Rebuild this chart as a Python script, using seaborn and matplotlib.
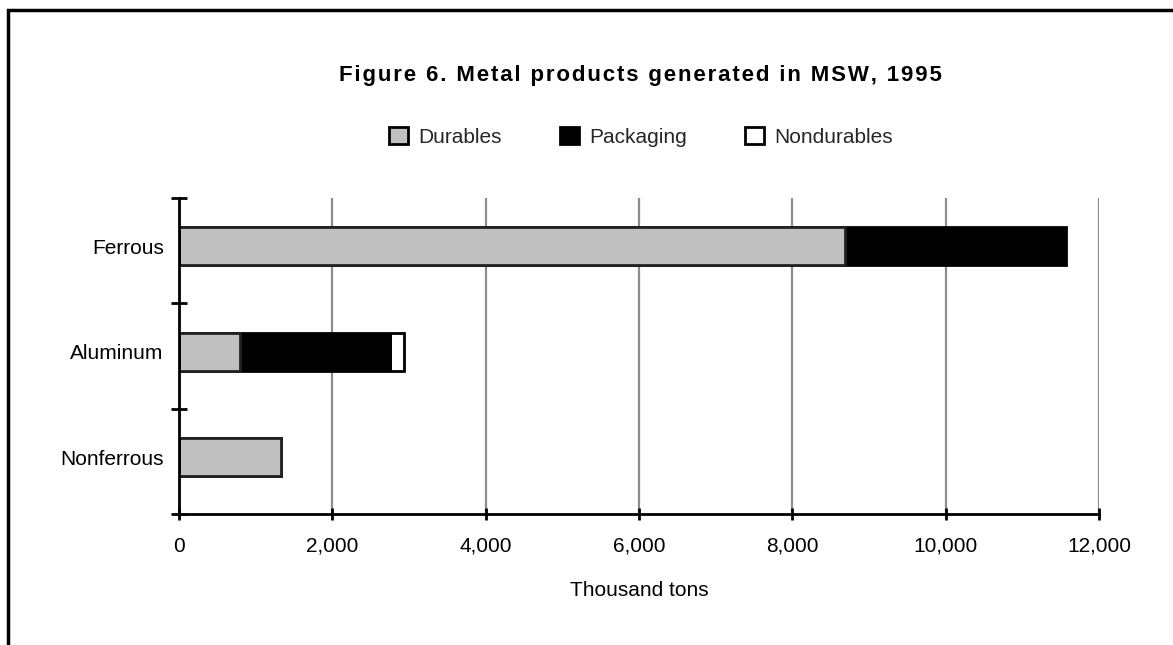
import matplotlib
matplotlib.use("Agg")
import matplotlib.pyplot as plt
from matplotlib.patches import Patch, Rectangle
from matplotlib.ticker import FuncFormatter, FixedLocator
import seaborn as sns
import pandas as pd

categories = ["Ferrous", "Aluminum", "Nonferrous"]
durables = [8690, 800, 1330]
packaging = [2880, 1980, 0]
nondurables = [0, 160, 0]
series_names = ["Durables", "Packaging", "Nondurables"]
xticks = [0, 2000, 4000, 6000, 8000, 10000, 12000]
title = "Figure 6. Metal products generated in MSW, 1995"
xlabel = "Thousand tons"

sns.set_theme(style="white")
plt.rcParams["font.family"] = ["Liberation Sans", "DejaVu Sans"]

df = pd.DataFrame({"category": categories,
                   "d": durables, "p": packaging, "n": nondurables})
df["cum_dp"] = df["d"] + df["p"]
df["cum_all"] = df["cum_dp"] + df["n"]

fig = plt.figure(figsize=(11.73, 6.45), dpi=100)
ax = fig.add_axes([179 / 1173, 1 - 514 / 645, (1099 - 179) / 1173, (514 - 198) / 645])

w = 0.36
sns.barplot(data=df, y="category", x="cum_all", orient="h", ax=ax, color="white",
            edgecolor="black", linewidth=2, width=w, saturation=1)
sns.barplot(data=df, y="category", x="cum_dp", orient="h", ax=ax, color="black",
            edgecolor="black", linewidth=0, width=w, saturation=1)
sns.barplot(data=df, y="category", x="d", orient="h", ax=ax, color="#c0c0c0",
            edgecolor="#222222", linewidth=2, width=w, saturation=1)

shift = 0.04
ax.set_xlim(0, 12000)
ax.set_ylim(2.5 + shift, -0.5 + shift)
ax.set_xticks(xticks)
ax.xaxis.set_major_formatter(FuncFormatter(lambda v, p: f"{int(v):,}"))
ax.set_yticks([-0.5 + shift, 0.5 + shift, 1.5 + shift, 2.5 + shift])
ax.set_yticklabels([])
ax.set_yticks([0, 1, 2], minor=True)
ax.set_yticklabels(categories, minor=True)
ax.tick_params(axis="y", which="minor", length=0, pad=11, labelsize=15, colors="black")
ax.tick_params(axis="y", which="major", direction="inout", length=12, width=2,
               color="black", left=True)
ax.tick_params(axis="x", which="major", direction="inout", length=9, width=2,
               color="black", bottom=True, pad=12, labelsize=15, labelcolor="black")
ax.set_ylabel("")
ax.set_xlabel(xlabel, fontsize=15, labelpad=18, color="black")

ax.grid(False)
for x in xticks[1:]:
    ax.axvline(x, color="#8c8c8c", lw=1.6, zorder=0)
for s in ["top", "right"]:
    ax.spines[s].set_visible(False)
for s in ["left", "bottom"]:
    ax.spines[s].set_color("black")
    ax.spines[s].set_linewidth(2)
ax.set_axisbelow(True)

spaced_title = "\u200a".join(title)
fig.text(640 / 1173, 1 - 75 / 645, spaced_title, ha="center", va="center",
         fontsize=16, fontweight="bold", color="black",
         family=["Liberation Sans", "DejaVu Sans"])

handles = [Patch(facecolor="#c0c0c0", edgecolor="black", linewidth=2),
           Patch(facecolor="black", edgecolor="black", linewidth=2),
           Patch(facecolor="white", edgecolor="black", linewidth=2)]
fig.legend(handles, series_names, loc="center", bbox_to_anchor=(641 / 1173, 1 - 137 / 645),
           ncol=3, frameon=False, fontsize=15, handlelength=0.9, handleheight=0.9,
           handletextpad=0.5, columnspacing=2.8)

fig.add_artist(Rectangle((8 / 1173, -0.1), 1.2, 0.1 + 1 - 10 / 645,
                         transform=fig.transFigure, fill=False, edgecolor="black",
                         linewidth=2.5))

fig.savefig("out.png", dpi=100)
